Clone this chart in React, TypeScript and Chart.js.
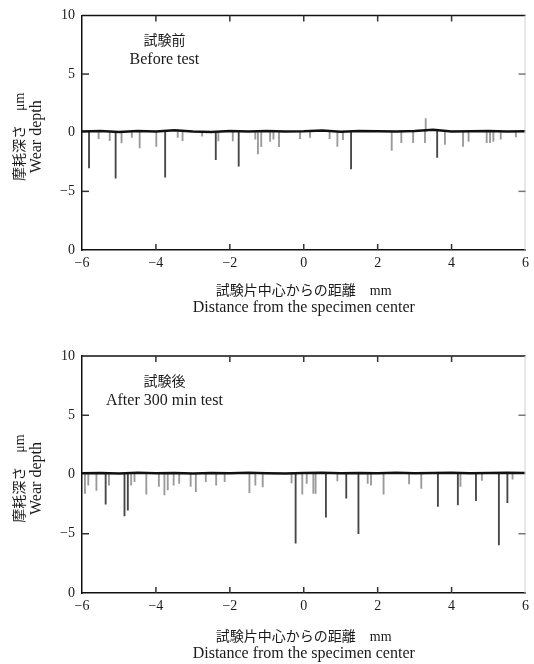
import React, { useEffect, useRef } from 'react';
import { Chart, registerables } from 'chart.js';

Chart.register(...registerables);

// ---------- data ----------
const xTickValues = [-6, -4, -2, 0, 2, 4, 6];
const xTickLabels = ['−6', '−4', '−2', '0', '2', '4', '6'];
const yTickValues = [10, 5, 0, -5, -10];
const yTickLabels = ['10', '5', '0', '−5', '0'];

const baseX = [-6, -5.5, -5, -4.5, -4, -3.5, -3, -2.5, -2, -1.5, -1, -0.5, 0, 0.5, 1, 1.5, 2, 2.5, 3, 3.5, 4, 4.5, 5, 5.5, 6];
const beforeBaseY = [0.1, 0.15, 0.05, 0.15, 0.1, 0.2, 0.1, 0.05, 0.15, 0.1, 0.15, 0.1, 0.12, 0.18, 0.08, 0.15, 0.12, 0.1, 0.15, 0.25, 0.1, 0.12, 0.15, 0.1, 0.12];
const afterBaseY = [0.1, 0.12, 0.08, 0.15, 0.1, 0.12, 0.08, 0.12, 0.1, 0.15, 0.1, 0.08, 0.12, 0.15, 0.1, 0.12, 0.1, 0.15, 0.1, 0.12, 0.15, 0.1, 0.12, 0.15, 0.12];

const beforeSpikeX = [-5.81, -5.55, -5.25, -5.09, -4.93, -4.65, -4.44, -3.99, -3.75, -3.41, -3.28, -2.75, -2.38, -2.31, -1.92, -1.76, -1.31, -1.24, -1.15, -0.91, -0.82, -0.67, -0.1, 0.17, 0.7, 0.91, 1.06, 1.28, 2.38, 2.64, 2.96, 3.28, 3.3, 3.61, 3.82, 4.31, 4.46, 4.95, 5.04, 5.13, 5.33, 5.74];
const beforeSpikeY = [-3.0, -0.5, -0.68, -3.87, -0.87, -0.4, -1.3, -1.16, -3.8, -0.4, -0.68, -0.3, -2.3, -0.7, -0.7, -2.85, -0.55, -1.8, -1.2, -0.75, -0.55, -1.2, -0.5, -0.4, -0.5, -1.16, -0.6, -3.08, -1.5, -0.85, -0.85, -0.85, 1.2, -2.1, -1.0, -1.16, -0.75, -0.85, -0.85, -0.75, -0.55, -0.35];

const afterSpikeX = [-5.92, -5.83, -5.61, -5.36, -5.27, -4.85, -4.76, -4.67, -4.58, -4.26, -3.92, -3.77, -3.68, -3.52, -3.37, -3.06, -2.92, -2.65, -2.37, -2.14, -1.47, -1.31, -1.11, -0.33, -0.22, -0.04, 0.08, 0.26, 0.32, 0.6, 0.91, 1.15, 1.48, 1.73, 1.82, 2.16, 2.85, 3.18, 3.63, 4.17, 4.24, 4.66, 4.82, 5.28, 5.51, 5.65];
const afterSpikeY = [-1.6, -0.9, -1.35, -2.5, -0.9, -3.5, -3.0, -0.9, -0.6, -1.67, -1.0, -1.73, -1.3, -0.9, -0.75, -1.0, -1.45, -0.6, -0.9, -0.6, -1.53, -0.9, -1.05, -0.7, -5.8, -1.65, -0.75, -1.6, -1.6, -3.6, -0.55, -2.0, -5.0, -0.75, -0.9, -1.65, -0.8, -1.17, -2.7, -2.57, -1.0, -2.2, -0.5, -5.95, -2.38, -0.4];

const beforeCaption = ['試験前', 'Before test'];
const afterCaption = ['試験後', 'After 300 min test'];
const xTitle = ['試験片中心からの距離　mm', 'Distance from the specimen center'];
const yTitle = ['摩耗深さ　μm', 'Wear depth'];

// ---------- styles ----------
const SERIF = "'Liberation Serif', 'Noto Sans CJK JP', serif";
const TEXT = '#1a1a1a';

type PanelProps = {
  height: number;
  padTop: number;
  xAxisHeight: number;
  baseY: number[];
  spikeX: number[];
  spikeY: number[];
  baseLevel: number;
  caption: string[];
  captionPos: { x: number; y: number[] };
  xTitleOffsets: number[];
};

function Panel(props: PanelProps) {
  const ref = useRef<HTMLCanvasElement | null>(null);
  useEffect(() => {
    const canvas = ref.current;
    if (!canvas) return;
    const lineData = baseX.map((x, i) => ({ x, y: props.baseY[i] }));
    const spikeData = props.spikeX.map((x, i) => ({ x, y: [props.spikeY[i], props.baseLevel] }));

    const decor = {
      id: 'decor',
      afterDraw(chart: any) {
        const { ctx, chartArea: a, scales } = chart;
        const xs = scales.x;
        const ys = scales.y;
        ctx.save();
        // top border
        ctx.strokeStyle = '#111';
        ctx.lineWidth = 1.5;
        ctx.beginPath();
        ctx.moveTo(a.left, a.top);
        ctx.lineTo(a.right, a.top);
        ctx.stroke();
        // right border (faint)
        ctx.strokeStyle = '#d0d0d0';
        ctx.lineWidth = 1;
        ctx.beginPath();
        ctx.moveTo(a.right - 0.5, a.top);
        ctx.lineTo(a.right - 0.5, a.bottom);
        ctx.stroke();
        // inner ticks
        ctx.strokeStyle = '#333';
        ctx.lineWidth = 1.5;
        [-4, -2, 0, 2, 4].forEach((v) => {
          const px = xs.getPixelForValue(v);
          ctx.beginPath();
          ctx.moveTo(px, a.bottom);
          ctx.lineTo(px, a.bottom - 6);
          ctx.moveTo(px, a.top);
          ctx.lineTo(px, a.top + 6);
          ctx.stroke();
        });
        [5, -5].forEach((v) => {
          const py = ys.getPixelForValue(v);
          ctx.strokeStyle = '#333';
          ctx.beginPath();
          ctx.moveTo(a.left, py);
          ctx.lineTo(a.left + 7, py);
          ctx.stroke();
          ctx.strokeStyle = '#777';
          ctx.beginPath();
          ctx.moveTo(a.right, py);
          ctx.lineTo(a.right - 7, py);
          ctx.stroke();
        });
        // caption
        ctx.fillStyle = TEXT;
        ctx.textAlign = 'center';
        ctx.textBaseline = 'middle';
        const cx = xs.getPixelForValue(props.captionPos.x);
        ctx.font = "14px 'Noto Sans CJK JP', serif";
        ctx.fillText(props.caption[0], cx, ys.getPixelForValue(props.captionPos.y[0]));
        ctx.font = `16px ${SERIF}`;
        ctx.fillText(props.caption[1], cx, ys.getPixelForValue(props.captionPos.y[1]));
        // x title
        const mx = (a.left + a.right) / 2;
        ctx.font = `14px ${SERIF}`;
        ctx.fillText(xTitle[0], mx, a.bottom + props.xTitleOffsets[0]);
        ctx.font = `16px ${SERIF}`;
        ctx.fillText(xTitle[1], mx, a.bottom + props.xTitleOffsets[1]);
        // y title (rotated)
        const my = (a.top + a.bottom) / 2 + 4;
        ctx.save();
        ctx.translate(20, my);
        ctx.rotate(-Math.PI / 2);
        ctx.font = `14px ${SERIF}`;
        ctx.fillText(yTitle[0], 0, 0);
        ctx.restore();
        ctx.save();
        ctx.translate(37, my);
        ctx.rotate(-Math.PI / 2);
        ctx.font = `16px ${SERIF}`;
        ctx.fillText(yTitle[1], 0, 0);
        ctx.restore();
        ctx.restore();
      },
    };

    const chart = new Chart(canvas, {
      type: 'bar',
      data: {
        datasets: [
          {
            type: 'line',
            data: lineData,
            borderColor: '#111',
            borderWidth: 2.5,
            pointRadius: 0,
            tension: 0,
            order: 0,
          } as any,
          {
            type: 'bar',
            data: spikeData as any,
            backgroundColor: (c: any) => {
              const r = c.raw;
              const d = r && Array.isArray(r.y) ? Math.min(r.y[0], r.y[1]) : 0;
              return d <= -2 ? '#474747' : '#9a9a9a';
            },
            barThickness: 1.2,
            grouped: false,
            order: 1,
          } as any,
        ],
      },
      options: {
        responsive: false,
        animation: false,
        devicePixelRatio: 1,
        layout: { padding: { top: props.padTop, right: 5, left: 0, bottom: 0 } },
        plugins: { legend: { display: false }, tooltip: { enabled: false } },
        scales: {
          x: {
            type: 'linear',
            min: -6,
            max: 6,
            offset: false,
            grid: { display: false, drawTicks: false },
            border: { display: true, color: '#111', width: 1.5 },
            ticks: {
              stepSize: 2,
              padding: 5,
              color: TEXT,
              font: { family: SERIF, size: 14 },
              maxRotation: 0,
              callback: (v: any) => {
                const i = xTickValues.indexOf(Number(v));
                return i >= 0 ? xTickLabels[i] : '';
              },
            },
            afterFit: (s: any) => {
              s.height = props.xAxisHeight;
            },
          },
          y: {
            min: -10,
            max: 10,
            grid: { display: false, drawTicks: false },
            border: { display: true, color: '#111', width: 1.5 },
            ticks: {
              stepSize: 5,
              padding: 7,
              color: TEXT,
              font: { family: SERIF, size: 14 },
              callback: (v: any) => {
                const i = yTickValues.indexOf(Number(v));
                return i >= 0 ? yTickLabels[i] : '';
              },
            },
            afterFit: (s: any) => {
              s.width = 82;
            },
          },
        },
      } as any,
      plugins: [decor],
    });
    return () => chart.destroy();
  }, []);
  return <canvas ref={ref} width={534} height={props.height} style={{ display: 'block' }} />;
}

export default function App() {
  return (
    <div style={{ position: 'absolute', left: 0, top: 0, width: 534, height: 664, background: '#fff' }}>
      <Panel
        height={330}
        padTop={14}
        xAxisHeight={80}
        baseY={beforeBaseY}
        spikeX={beforeSpikeX}
        spikeY={beforeSpikeY}
        baseLevel={0.12}
        caption={beforeCaption}
        captionPos={{ x: -3.77, y: [7.95, 6.25] }}
        xTitleOffsets={[41, 58]}
      />
      <Panel
        height={334}
        padTop={26}
        xAxisHeight={71}
        baseY={afterBaseY}
        spikeX={afterSpikeX}
        spikeY={afterSpikeY}
        baseLevel={0.1}
        caption={afterCaption}
        captionPos={{ x: -3.77, y: [7.95, 6.2] }}
        xTitleOffsets={[44, 61]}
      />
    </div>
  );
}
